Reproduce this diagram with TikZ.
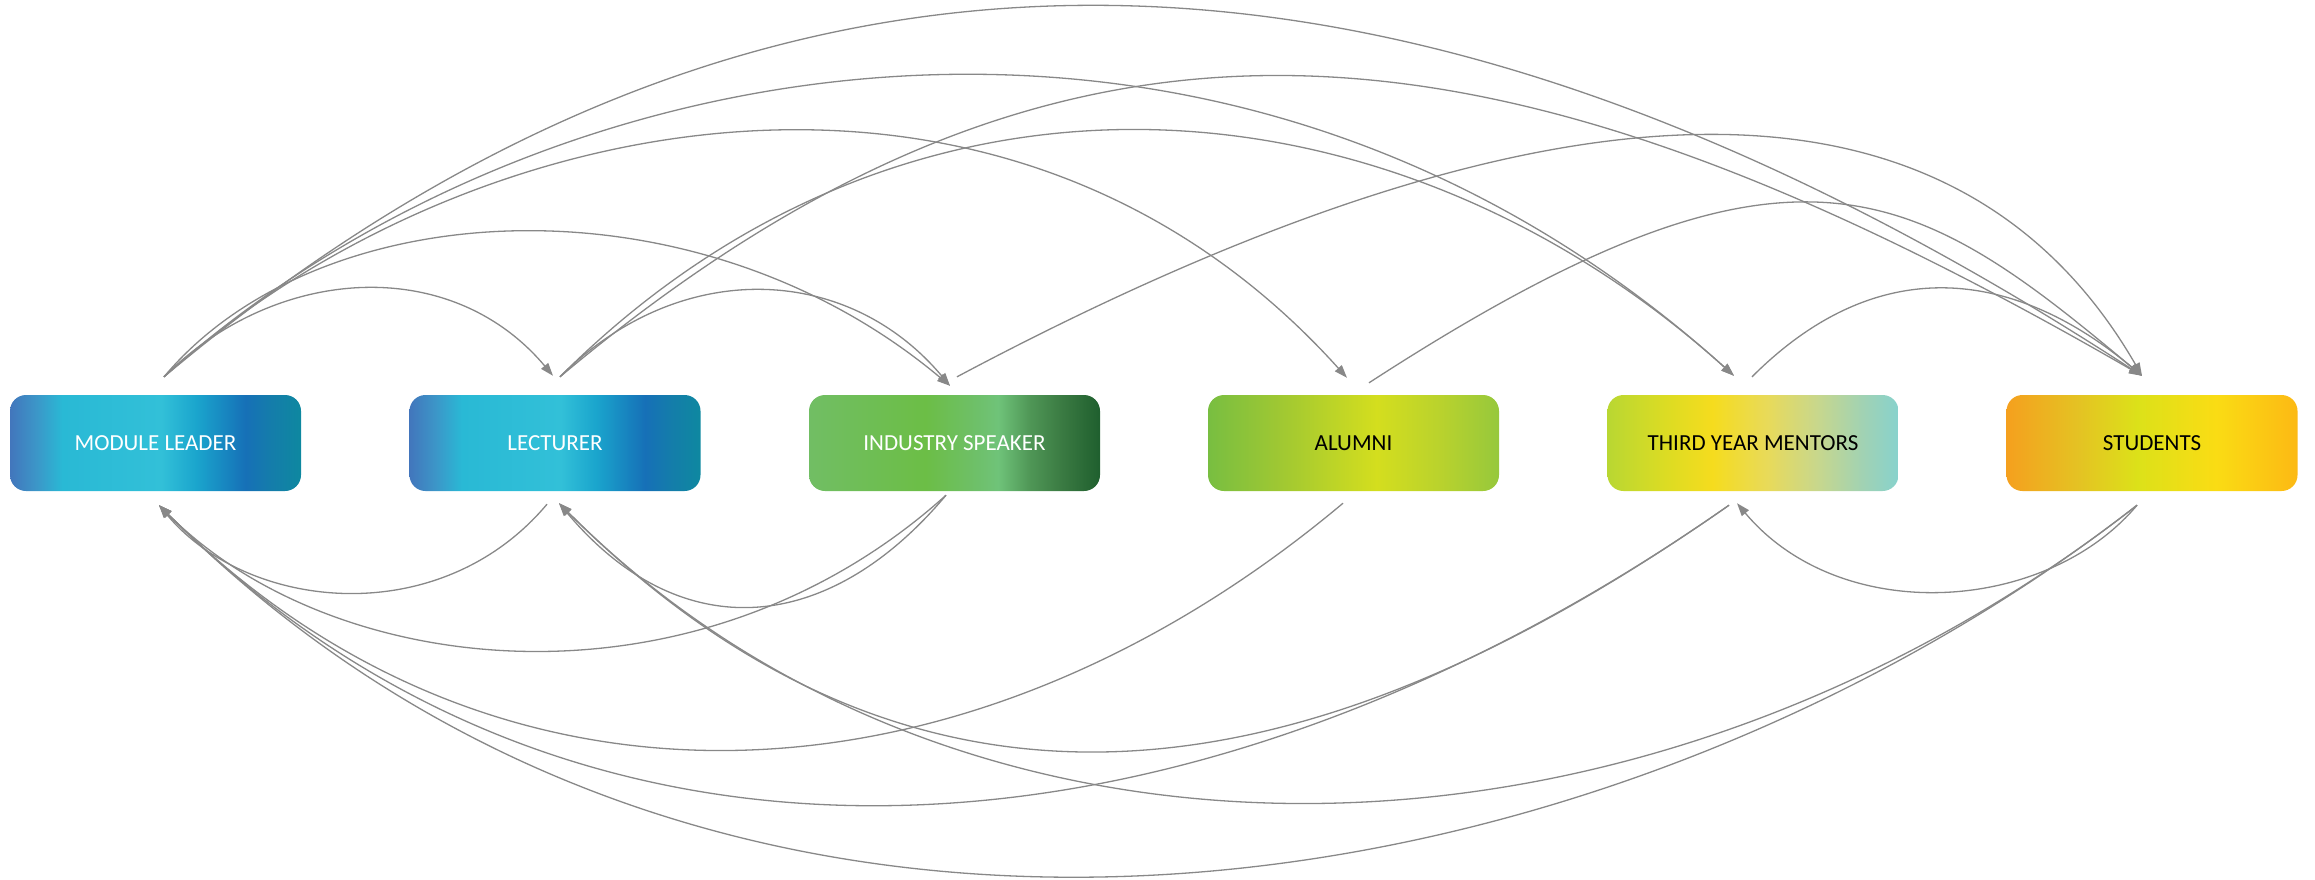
\documentclass[tikz,border=0pt]{standalone}
\usepackage{fontspec}
\setmainfont{Carlito}
\usetikzlibrary{arrows.meta,calc}

% palette
\definecolor{linkgray}{HTML}{888888}
\definecolor{bA}{HTML}{4276BC}\definecolor{bB}{HTML}{3C96C8}\definecolor{bC}{HTML}{29B9D5}
\definecolor{bD}{HTML}{32C0D8}\definecolor{bE}{HTML}{1AA5CD}\definecolor{bF}{HTML}{1670B7}
\definecolor{bG}{HTML}{147DAA}\definecolor{bH}{HTML}{0E88A0}
\definecolor{gA}{HTML}{71BE64}\definecolor{gB}{HTML}{6CBE46}\definecolor{gC}{HTML}{6EBF64}
\definecolor{gD}{HTML}{6FC379}\definecolor{gE}{HTML}{4F9656}\definecolor{gF}{HTML}{3A7A42}
\definecolor{gG}{HTML}{1F5F2E}
\definecolor{lA}{HTML}{78BE41}\definecolor{lB}{HTML}{A0C832}\definecolor{lC}{HTML}{D4DE1E}
\definecolor{lD}{HTML}{B9D22D}\definecolor{lE}{HTML}{96C83C}
\definecolor{yA}{HTML}{B9D732}\definecolor{yB}{HTML}{DCDC23}\definecolor{yC}{HTML}{F5DC1E}
\definecolor{yD}{HTML}{E8DA5A}\definecolor{yE}{HTML}{C8D78C}\definecolor{yF}{HTML}{A0D2B4}
\definecolor{yG}{HTML}{87D2CD}
\definecolor{oA}{HTML}{F5A01E}\definecolor{oB}{HTML}{E4C323}\definecolor{oC}{HTML}{DCE119}
\definecolor{oD}{HTML}{FADC14}\definecolor{oE}{HTML}{FCB914}

% horizontal bands: the box spans 25bp..75bp of each shading
\pgfdeclarehorizontalshading{blueband}{100bp}{color(0bp)=(bA); color(25bp)=(bA); color(29.5bp)=(bB);
  color(34bp)=(bC); color(51bp)=(bD); color(57bp)=(bE); color(65.5bp)=(bF); color(70bp)=(bG);
  color(75bp)=(bH); color(100bp)=(bH)}
\pgfdeclarehorizontalshading{greenband}{100bp}{color(0bp)=(gA); color(25bp)=(gA); color(45bp)=(gB);
  color(52.5bp)=(gC); color(57.5bp)=(gD); color(63bp)=(gE); color(68.5bp)=(gF);
  color(75bp)=(gG); color(100bp)=(gG)}
\pgfdeclarehorizontalshading{limeband}{100bp}{color(0bp)=(lA); color(25bp)=(lA); color(37.5bp)=(lB);
  color(54bp)=(lC); color(65bp)=(lD); color(75bp)=(lE); color(100bp)=(lE)}
\pgfdeclarehorizontalshading{yellowband}{100bp}{color(0bp)=(yA); color(25bp)=(yA); color(35bp)=(yB);
  color(43bp)=(yC); color(52.5bp)=(yD); color(61bp)=(yE); color(69bp)=(yF);
  color(75bp)=(yG); color(100bp)=(yG)}
\pgfdeclarehorizontalshading{orangeband}{100bp}{color(0bp)=(oA); color(25bp)=(oA); color(37.5bp)=(oB);
  color(47.5bp)=(oC); color(61bp)=(oD); color(75bp)=(oE); color(100bp)=(oE)}

\tikzset{
  actor/.style={rounded corners=16pt, minimum width=291pt, minimum height=96pt, inner sep=0pt,
    font=\fontsize{23}{27}\selectfont},
  link/.style={draw=linkgray, line width=1.3pt, -{Triangle[length=13pt,width=9pt]}},
}

\begin{document}
\begin{tikzpicture}[x=1pt,y=-1pt]
\useasboundingbox (0,0) rectangle (2315,879);

% roles
\node[actor, shading=blueband, text=white]  (ml)  at (155.5,443) {MODULE LEADER};
\node[actor, shading=blueband, text=white]  (lec) at (555,443)   {LECTURER};
\node[actor, shading=greenband, text=white] (isp) at (954.5,443) {INDUSTRY SPEAKER};
\node[actor, shading=limeband, text=black]  (alu) at (1353.5,443) {ALUMNI};
\node[actor, shading=yellowband, text=black] (tym) at (1753,443) {THIRD YEAR MENTORS};
\node[actor, shading=orangeband, text=black] (stu) at (2152,443) {STUDENTS};

% ports above the boxes
\coordinate (mlTo)  at ($(ml.north)+(8.5,-18)$);
\coordinate (lecTi) at ($(lec.north)+(-2,-19)$);
\coordinate (lecTo) at ($(lec.north)+(5,-18)$);
\coordinate (ispTi) at ($(isp.north)+(-4.5,-9)$);
\coordinate (ispTo) at ($(isp.north)+(2.5,-18)$);
\coordinate (aluTi) at ($(alu.north)+(-6.5,-17)$);
\coordinate (aluTo) at ($(alu.north)+(15.5,-12)$);
\coordinate (tymTi) at ($(tym.north)+(-19,-19)$);
\coordinate (tymTo) at ($(tym.north)+(-1,-18)$);
\coordinate (stuTi) at ($(stu.north)+(-10,-19)$);

% ports below the boxes
\coordinate (mlBi)  at ($(ml.south)+(3.5,14)$);
\coordinate (lecBo) at ($(lec.south)+(-8,13)$);
\coordinate (lecBi) at ($(lec.south)+(4,12)$);
\coordinate (ispBo) at ($(isp.south)+(-8.5,4)$);
\coordinate (aluBo) at ($(alu.south)+(-10.5,12)$);
\coordinate (tymBo) at ($(tym.south)+(-24,14)$);
\coordinate (tymBi) at ($(tym.south)+(-16,12)$);
\coordinate (stuBo) at ($(stu.south)+(-15,14)$);

% arcs over the top, left to right
\draw[link] (mlTo)  .. controls +(-45:158) and +(230:159) .. (lecTi);
\draw[link] (mlTo)  .. controls +(-50:242) and +(220:332) .. (ispTi);
\draw[link] (mlTo)  .. controls +(-42:403) and +(228:514) .. (aluTi);
\draw[link] (mlTo)  .. controls +(-42:496) and +(222:694) .. (tymTi);
\draw[link] (mlTo)  .. controls +(-40:838) and +(213:820) .. (stuTi);
\draw[link] (lecTo) .. controls +(-45:170) and +(230:159) .. (ispTi);
\draw[link] (lecTo) .. controls +(-45:493) and +(222:458) .. (tymTi);
\draw[link] (lecTo) .. controls +(-40:670) and +(210:737) .. (stuTi);
\draw[link] (ispTo) .. controls +(-28:738) and +(240:340) .. (stuTi);
\draw[link] (aluTo) .. controls +(-33:505) and +(220:301) .. (stuTi);
\draw[link] (tymTo) .. controls +(-45:184) and +(220:160) .. (stuTi);

% arcs underneath, right to left
\draw[link] (lecBo) .. controls +(130:165) and +(50:140) .. (mlBi);
\draw[link] (ispBo) .. controls +(138:335) and +(45:249) .. (mlBi);
\draw[link] (ispBo) .. controls +(130:183) and +(50:189) .. (lecBi);
\draw[link] (aluBo) .. controls +(140:486) and +(45:482) .. (mlBi);
\draw[link] (tymBo) .. controls +(145:653) and +(45:598) .. (mlBi);
\draw[link] (tymBo) .. controls +(145:456) and +(45:551) .. (lecBi);
\draw[link] (stuBo) .. controls +(130:141) and +(50:162) .. (tymBi);
\draw[link] (stuBo) .. controls +(142:657) and +(45:815) .. (mlBi);
\draw[link] (stuBo) .. controls +(142:638) and +(45:569) .. (lecBi);
\end{tikzpicture}
\end{document}
